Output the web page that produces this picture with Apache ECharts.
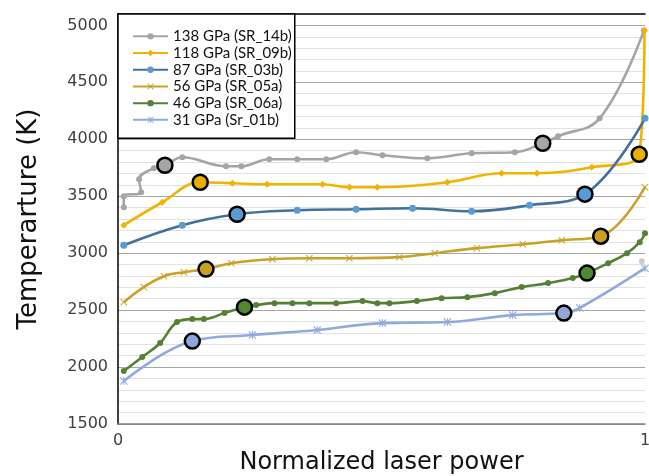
<!DOCTYPE html>
<html><head><meta charset="utf-8">
<script src="https://cdn.jsdelivr.net/npm/echarts@6/dist/echarts.min.js"></script>
<style>html,body{margin:0;padding:0;background:#fff}#c{width:649px;height:476px}</style>
</head><body><div id="c"></div>
<script>
// ---- data ----
const seriesNames = ["138 GPa (SR_14b)", "118 GPa (SR_09b)", "87 GPa (SR_03b)", "56 GPa (SR_05a)", "46 GPa (SR_06a)", "31 GPa (Sr_01b)"];

const x138 = [0.011,0.011,0.044,0.040,0.068,0.089,0.122,0.205,0.234,0.287,0.340,0.395,0.452,0.502,0.587,0.671,0.753,0.806,0.835,0.914,0.998];
const t138 = [3404,3500,3535,3649,3746,3772,3842,3763,3763,3825,3825,3825,3886,3860,3833,3877,3886,3965,4026,4184,4956];

const x118 = [0.011,0.084,0.156,0.217,0.283,0.388,0.439,0.492,0.625,0.728,0.795,0.899,0.989,0.999];
const t118 = [3246,3447,3623,3614,3605,3605,3579,3579,3623,3702,3702,3754,3868,4956];

const x87 = [0.011,0.122,0.226,0.340,0.452,0.559,0.671,0.781,0.886,1.0];
const t87 = [3070,3246,3342,3377,3386,3395,3368,3421,3518,4184];

const x56 = [0.011,0.049,0.087,0.125,0.167,0.215,0.293,0.363,0.439,0.534,0.601,0.681,0.768,0.842,0.916,1.0];
const t56 = [2570,2702,2798,2833,2860,2912,2947,2956,2956,2965,3000,3044,3079,3114,3149,3579];

const x46 = [0.011,0.046,0.080,0.112,0.141,0.163,0.202,0.240,0.262,0.297,0.331,0.363,0.414,0.464,0.492,0.515,0.567,0.614,0.663,0.715,0.766,0.816,0.863,0.890,0.930,0.966,0.990,1.0];
const t46 = [1965,2088,2211,2395,2421,2421,2474,2526,2544,2561,2561,2561,2561,2579,2561,2561,2579,2605,2614,2649,2702,2737,2781,2825,2912,3000,3096,3175];

const x31 = [0.011,0.141,0.255,0.378,0.502,0.625,0.749,0.846,0.876,1.0];
const t31 = [1877,2228,2281,2325,2386,2395,2456,2474,2518,2868];

// indices of the emphasised (large, black-ringed) points per series
const highlightIdx = [[5,17],[2,12],[2,8],[4,14],[7,23],[1,7]];

// lone grey point near the right edge
const strayX = [0.994];
const strayT = [2930];

const yTickLabels = [1500,2000,2500,3000,3500,4000,4500,5000];
const xTickLabels = [0,1];

// ---- styles ----
const xs = [x138,x118,x87,x56,x46,x31];
const ts = [t138,t118,t87,t56,t46,t31];
const lineColors = ['#a5a5a5','#f0b400','#41719c','#c9a227','#548235','#8faadc'];
const markColors = ['#a5a5a5','#f0b400','#5b9bd5','#c9a227','#548235','#8faadc'];
const bigColors  = ['#a5a5a5','#e8ae00','#5b9bd5','#c9a020','#4f8a30','#8ea6da'];
const crossPath = 'path://M0,1L1,0L5,4L9,0L10,1L6,5L10,9L9,10L5,6L1,10L0,9L4,5Z';
const starPath = 'path://M0,1L1,0L5,4L9,0L10,1L6,5L10,9L9,10L5,6L1,10L0,9L4,5Z M4.4,0L5.6,0L5.6,10L4.4,10Z';
const symbols = ['circle','diamond','circle',crossPath,'circle',starPath];
const symSizes = [6,7,7,7,6,8];

const series = [];
seriesNames.forEach((name,i)=>{
  series.push({
    name, type:'line', smooth:0.4,
    data: xs[i].map((x,k)=>[x, ts[i][k]]),
    symbol: symbols[i], symbolSize: symSizes[i], showSymbol:true,
    lineStyle:{color: lineColors[i], width:2.6},
    itemStyle:{color: markColors[i]},
    z:2
  });
});
seriesNames.forEach((name,i)=>{
  series.push({
    name: name + ' pts', type:'scatter', silent:true, z:10,
    data: highlightIdx[i].map(k=>[xs[i][k], ts[i][k]]),
    symbol:'circle', symbolSize:15,
    itemStyle:{color: bigColors[i], borderColor:'#000', borderWidth:2.5, opacity:1}
  });
});
series.push({
  name:'stray', type:'scatter', silent:true,
  data: strayX.map((x,k)=>[x, strayT[k]]),
  symbol:'circle', symbolSize:6, itemStyle:{color:'#bfbfbf'}
});

const chart = echarts.init(document.getElementById('c'), null, {renderer:'canvas'});
chart.setOption({
  animation:false,
  backgroundColor:'#fff',
  grid:{left:118, right:4, top:14, bottom:52, containLabel:false, outerBoundsMode:'none'},
  legend:{
    data: seriesNames, orient:'vertical', left:118, top:14,
    backgroundColor:'#fff', borderColor:'#000', borderWidth:1.5,
    padding:[14,3,10,14], itemWidth:35, itemHeight:8, itemGap:0,
    textStyle:{fontFamily:'Lato', fontSize:15, color:'#111', lineHeight:16.7}
  },
  xAxis:[{
    type:'value', min:0, max:1, interval:1,
    axisLine:{show:true, lineStyle:{color:'#7f7f7f', width:1.5}},
    axisTick:{show:false}, splitLine:{show:false},
    axisLabel:{fontFamily:'DejaVu Sans', fontSize:16, color:'#404040', margin:9,
      formatter:v=> xTickLabels.includes(v) ? String(v) : ''},
    name:'Normalized laser power', nameLocation:'middle', nameGap:27, nameMoveOverlap:false,
    nameTextStyle:{fontFamily:'DejaVu Sans', fontSize:24, color:'#111'}
  },{
    type:'value', min:0, max:1, position:'top',
    axisLine:{show:true, onZero:false, lineStyle:{color:'#000', width:1.5}},
    axisTick:{show:false}, axisLabel:{show:false}, splitLine:{show:false}
  }],
  yAxis:{
    type:'value', min:1500, max:5100, interval:100,
    axisLine:{show:true, lineStyle:{color:'#000', width:1.5}},
    axisTick:{show:false},
    splitLine:{show:true, lineStyle:{color:['#a6a6a6','#e2e2e2','#e2e2e2','#e2e2e2','#e2e2e2'], width:1.2}},
    axisLabel:{fontFamily:'DejaVu Sans', fontSize:16, color:'#404040', margin:10,
      formatter:v=> yTickLabels.includes(v) ? String(v) : ''},
    name:'Temperarture (K)', nameLocation:'middle', nameGap:76, nameMoveOverlap:false,
    nameTextStyle:{fontFamily:'DejaVu Sans', fontSize:26, color:'#111'}
  },
  series
});
</script></body></html>
